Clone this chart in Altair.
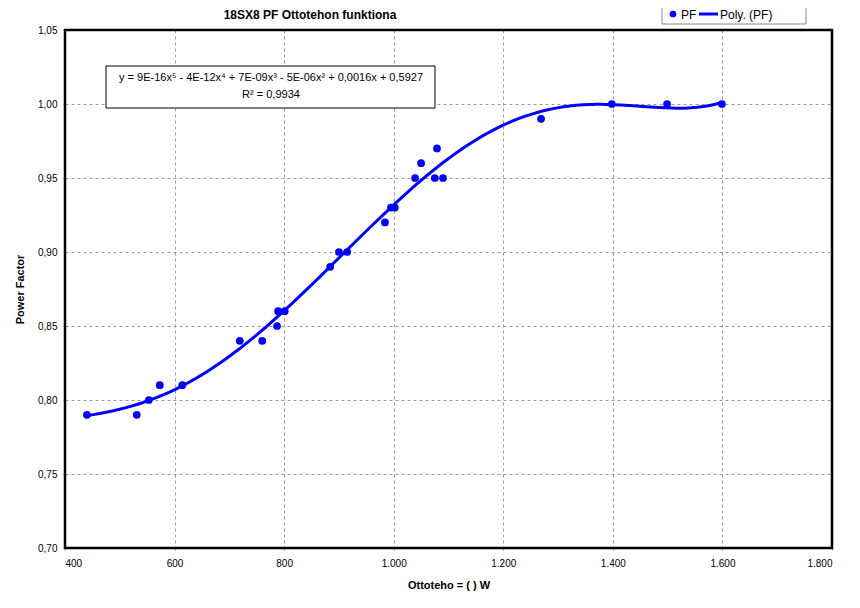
import altair as alt
import pandas as pd

# Data
pf_x = [440, 531, 553, 573, 614, 719, 760, 787, 789, 801, 884, 900, 915,
        984, 995, 1002, 1039, 1050, 1075, 1079, 1090, 1269, 1398, 1499, 1599]
pf_y = [0.79, 0.79, 0.80, 0.81, 0.81, 0.84, 0.84, 0.85, 0.86, 0.86, 0.89, 0.90, 0.90,
        0.92, 0.93, 0.93, 0.95, 0.96, 0.95, 0.97, 0.95, 0.99, 1.00, 1.00, 1.00]

x_ticks = [400, 600, 800, 1000, 1200, 1400, 1600, 1800]
y_ticks = [0.70, 0.75, 0.80, 0.85, 0.90, 0.95, 1.00, 1.05]
series_names = ["PF", "Poly. (PF)"]
chart_title = "18SX8 PF Ottotehon funktiona"
equation_lines = ["y = 9E-16x\u2075 - 4E-12x\u2074 + 7E-09x\u00b3 - 5E-06x\u00b2 + 0,0016x + 0,5927",
                  "R\u00b2 = 0,9934"]

df = pd.DataFrame({"x": pf_x, "y": pf_y})

FONT = "Liberation Sans"
BLUE = "#0000FF"
W, H = 767, 518

x_enc = alt.X("x:Q",
              scale=alt.Scale(domain=[400, 1800], nice=False, zero=False),
              axis=alt.Axis(values=x_ticks,
                            labelExpr="replace(format(datum.value, ','), ',', '.')",
                            title="Ottoteho = ( ) W",
                            grid=True, gridDash=[3, 3], gridColor="#999999",
                            domain=False, tickColor="#999999", tickSize=4,
                            tickDash=[2, 2],
                            labelPadding=6, titlePadding=11))
y_enc = alt.Y("y:Q",
              scale=alt.Scale(domain=[0.70, 1.05], nice=False, zero=False),
              axis=alt.Axis(values=y_ticks,
                            labelExpr="replace(format(datum.value, '.2f'), '.', ',')",
                            title="Power Factor",
                            grid=True, gridDash=[3, 3], gridColor="#999999",
                            domain=False, tickColor="#999999", tickSize=4,
                            tickDash=[2, 2],
                            labelPadding=4, titlePadding=12))

base = alt.Chart(df)

curve = (base
         .transform_calculate(xs="(datum.x - 1000) / 100")
         .transform_regression("xs", "y", method="poly", order=5, extent=[-5.6, 6.0])
         .transform_calculate(x="datum.xs * 100 + 1000")
         .mark_line(color=BLUE, strokeWidth=3)
         .encode(x=x_enc, y=y_enc))

points = (base
          .mark_point(filled=True, color=BLUE, size=60, opacity=1)
          .encode(x=x_enc, y=y_enc))

one = pd.DataFrame({"t": [equation_lines]})

# plot frame
frame = alt.Chart(one).mark_rect(fillOpacity=0, stroke="black", strokeWidth=2.5).encode(
    x=alt.value(0), x2=alt.value(W), y=alt.value(0), y2=alt.value(H))

# equation box
box = alt.Chart(one).mark_rect(fill="white", stroke="black", strokeWidth=1).encode(
    x=alt.value(41), x2=alt.value(370), y=alt.value(36), y2=alt.value(78))
note = alt.Chart(one).mark_text(font=FONT, fontSize=11, align="center",
                                baseline="top", lineHeight=17, color="black").encode(
    x=alt.value(206), y=alt.value(42), text="t")

# title
title = alt.Chart(pd.DataFrame({"t": [chart_title]})).mark_text(
    font=FONT, fontSize=12, fontWeight="bold", align="center", baseline="middle",
    color="black").encode(x=alt.value(245), y=alt.value(-15), text="t")

# legend
leg_box = alt.Chart(one).mark_rect(fill="white", stroke="#888888", strokeWidth=1).encode(
    x=alt.value(597), x2=alt.value(741), y=alt.value(-26), y2=alt.value(-6))
leg_pt = alt.Chart(one).mark_point(filled=True, color=BLUE, size=45, opacity=1).encode(
    x=alt.value(608), y=alt.value(-16))
leg_line = alt.Chart(one).mark_rule(color=BLUE, strokeWidth=3).encode(
    x=alt.value(634), x2=alt.value(653), y=alt.value(-16))
leg_txt1 = alt.Chart(pd.DataFrame({"t": [series_names[0]]})).mark_text(
    font=FONT, fontSize=12, align="left", baseline="middle", color="black").encode(
    x=alt.value(616), y=alt.value(-15), text="t")
leg_txt2 = alt.Chart(pd.DataFrame({"t": [series_names[1]]})).mark_text(
    font=FONT, fontSize=12, align="left", baseline="middle", color="black").encode(
    x=alt.value(655), y=alt.value(-15), text="t")

chart = (alt.layer(curve, points, frame, box, note, title,
                   leg_box, leg_pt, leg_line, leg_txt1, leg_txt2)
         .properties(width=W, height=H,
                     autosize=alt.AutoSizeParams(type="none"),
                     padding={"left": 57, "top": 22, "right": 20, "bottom": 60})
         .configure_view(strokeWidth=0)
         .configure_axis(labelFont=FONT, labelFontSize=11, labelColor="black",
                         titleFont=FONT, titleFontSize=11, titleFontWeight="bold",
                         titleColor="black")
         .configure(background="white"))

chart.save("out.html", embed_options={"renderer": "svg", "actions": False})
